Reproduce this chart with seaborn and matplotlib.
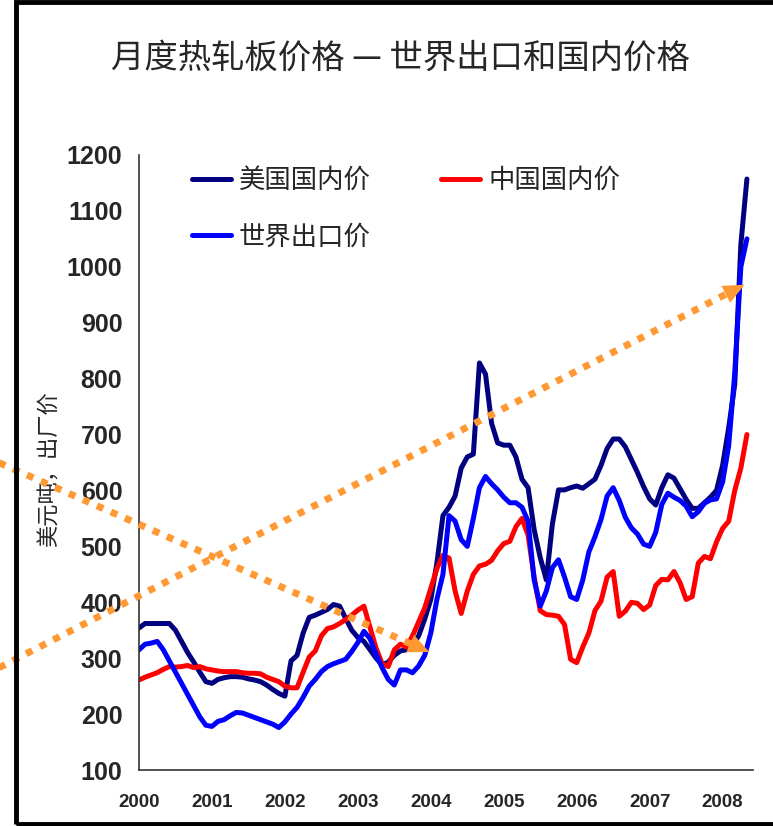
import matplotlib
matplotlib.use('Agg')
import matplotlib.pyplot as plt
from matplotlib.patches import Rectangle, Polygon
import numpy as np
import pandas as pd
import seaborn as sns

# 月度价格（美元/吨），2000年1月 - 2008年5月
us_price = [354, 362, 362, 362, 362, 362, 350, 330, 310, 293, 275, 258,
            255, 262, 265, 267, 267, 266, 263, 261, 258, 252, 244, 237,
            232, 295, 305, 345, 373, 377, 382, 387, 396, 393, 371, 350,
            337, 330, 315, 300, 288, 293, 305, 313, 315, 323, 340, 370,
            405, 470, 555, 570, 590, 640, 660, 665, 828, 808, 720, 685,
            681, 681, 660, 620, 605, 530, 480, 440, 540, 601, 601, 605,
            608, 604, 612, 620, 645, 675, 692, 692, 678, 655, 632, 607,
            585, 574, 605, 628, 622, 603, 584, 568, 568, 578, 588, 600,
            645, 712, 790, 1040, 1157]
cn_price = [261, 266, 270, 274, 280, 285, 284, 285, 287, 283, 285, 281,
            279, 277, 276, 276, 276, 274, 273, 273, 272, 266, 262, 258,
            250, 247, 247, 275, 302, 313, 340, 353, 356, 362, 369, 377,
            386, 393, 355, 318, 290, 285, 315, 325, 320, 340, 365, 390,
            425, 460, 484, 479, 420, 380, 420, 450, 465, 468, 475, 492,
            505, 509, 535, 550, 520, 445, 385, 378, 377, 375, 360, 298,
            292, 320, 345, 385, 402, 445, 455, 375, 384, 400, 398, 387,
            395, 430, 441, 440, 455, 435, 405, 410, 470, 482, 478, 508,
            532, 545, 600, 640, 700]
world_price = [315, 325, 327, 330, 315, 295, 275, 255, 235, 215, 195, 180,
               178, 187, 190, 197, 203, 202, 198, 194, 190, 186, 182, 176,
               186, 200, 212, 230, 250, 262, 276, 285, 290, 294, 298, 312,
               328, 348, 335, 307, 283, 262, 252, 279, 279, 274, 286, 305,
               345, 405, 450, 555, 545, 512, 500, 550, 605, 625, 612, 601,
               588, 578, 578, 570, 545, 440, 393, 420, 462, 476, 445, 410,
               405, 440, 490, 517, 548, 590, 605, 582, 552, 533, 522, 504,
               500, 525, 575, 595, 588, 582, 572, 553, 562, 577, 583, 585,
               615, 680, 810, 1000, 1050]
series_names = ['美国国内价', '中国国内价', '世界出口价']
series_colors = ['#000080', '#FF0000', '#0000FF']
year_ticks = list(range(2000, 2009))
price_ticks = list(range(100, 1300, 100))

months = 2000 + np.arange(len(us_price)) / 12.0
df = pd.concat([
    pd.DataFrame({'年': months, '价格': vals, '系列': name})
    for name, vals in zip(series_names, [us_price, cn_price, world_price])
])

sns.set_style('white')
plt.rcParams['font.family'] = ['Noto Sans CJK SC', 'DejaVu Sans']

fig = plt.figure(figsize=(7.73, 8.26), dpi=100)
ax = fig.add_axes([139 / 773, 56 / 826, 614 / 773, 615 / 826])

sns.lineplot(data=df, x='年', y='价格', hue='系列', hue_order=series_names,
             palette=series_colors, linewidth=3.6, ax=ax, legend=True)

ax.set_xlim(2000, 2000 + 101 / 12.0)
ax.set_ylim(100, 1200)
ax.set_xticks(year_ticks)
ax.set_yticks(price_ticks)
ax.set_xticklabels([str(y) for y in year_ticks], fontfamily='Liberation Sans',
                   fontweight='bold', fontsize=13.5)
ax.set_yticklabels([str(v) for v in price_ticks], fontfamily='Liberation Sans',
                   fontweight='bold', fontsize=18)
ax.tick_params(axis='x', direction='out', length=6, width=1.2, color='#333333', pad=11)
ax.tick_params(axis='y', direction='out', length=6, width=1.2, color='#333333', pad=6)
ax.set_xlabel('')
ax.set_ylabel('美元吨，出厂价', fontsize=16)
ax.yaxis.set_label_coords(-0.127, 0.49)
for side in ['top', 'right']:
    ax.spines[side].set_visible(False)
for side in ['left', 'bottom']:
    ax.spines[side].set_color('#333333')
    ax.spines[side].set_linewidth(1.2)

# 图例：两列，第一行 美国/中国，第二行 世界
handles, labels = ax.get_legend_handles_labels()
h = dict(zip(labels, handles))
order = ['美国国内价', '世界出口价', '中国国内价']
leg = ax.legend([h[k] for k in order], order, ncol=2, frameon=False,
                loc='upper left', bbox_to_anchor=(0.047, 1.019), fontsize=19,
                handlelength=1.5, handletextpad=0.3, columnspacing=2.65,
                labelspacing=1.12)

# 橙色虚线箭头（箭头三角形按像素方向计算）
orange = '#FF9933'
arrows = [((1997.5, 683), (2003.98, 311)), ((1997.5, 244), (2008.30, 968))]
head_len, head_half = 21.0, 9.5
to_px = ax.transData
to_data = ax.transData.inverted()
for (x0, y0), (x1, y1) in arrows:
    p0 = np.array(to_px.transform((x0, y0)))
    p1 = np.array(to_px.transform((x1, y1)))
    d = (p1 - p0) / np.linalg.norm(p1 - p0)
    n = np.array([-d[1], d[0]])
    base = p1 - d * head_len
    xb, yb = to_data.transform(base + d * 2)
    ax.plot([x0, xb], [y0, yb], color=orange, linewidth=5,
            linestyle=(0, (1, 1.2)), dash_capstyle='butt', clip_on=False, zorder=5)
    tri = to_data.transform(np.array([p1, base + n * head_half, base - n * head_half]))
    ax.add_patch(Polygon(tri, closed=True, facecolor=orange, edgecolor='none',
                         clip_on=False, zorder=5))

fig.text(400 / 773, 1 - 58 / 826, '月度热轧板价格 — 世界出口和国内价格',
         ha='center', va='center', fontsize=24)

fig.patches.append(Rectangle((15.5 / 773, 2.5 / 826), 1.0, 821.5 / 826,
                             transform=fig.transFigure, fill=False,
                             edgecolor='black', linewidth=3.5))

fig.savefig('out.png', dpi=100)
